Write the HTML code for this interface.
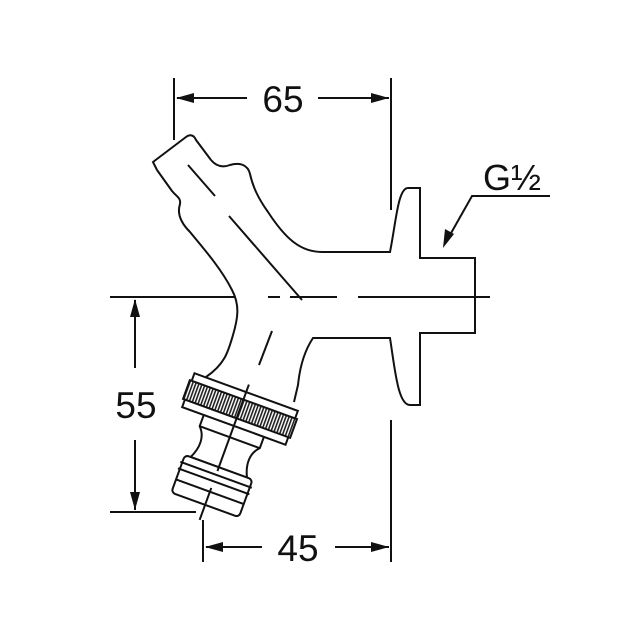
<!DOCTYPE html>
<html><head><style>html,body{margin:0;padding:0;background:#fff}svg{display:block}</style></head>
<body>
<svg width="640" height="640" viewBox="0 0 640 640" xmlns="http://www.w3.org/2000/svg">
<defs>
<pattern id="kn" width="3" height="10" patternUnits="userSpaceOnUse">
<rect width="3" height="10" fill="#fff"/><rect width="1.6" height="10" fill="#222"/>
</pattern>
</defs>
<g fill="none" stroke="#111" stroke-width="2">
<line x1="174" y1="78" x2="174" y2="140"/>
<line x1="391" y1="78" x2="391" y2="210"/>
<line x1="177" y1="98" x2="247" y2="98"/>
<line x1="318" y1="98" x2="389" y2="98"/>
<line x1="110" y1="297" x2="235" y2="297"/>
<line x1="135" y1="300" x2="135" y2="368"/>
<line x1="135" y1="440" x2="135" y2="510"/>
<line x1="110" y1="512" x2="196" y2="512"/>
<line x1="203" y1="520" x2="203" y2="562"/>
<line x1="391" y1="420" x2="391" y2="562"/>
<line x1="206" y1="547" x2="262" y2="547"/>
<line x1="335" y1="547" x2="389" y2="547"/>
<polyline points="550,196 472,196 446,242"/>
<line x1="280" y1="297" x2="268" y2="297"/>
<line x1="290" y1="297" x2="337" y2="297"/>
<line x1="358" y1="297" x2="490" y2="297"/>
<path d="M157,170 L172,191 C177,197 181,198 180,204 C177,213 180,222 190,232 C205,250 222,270 232,290 C240,305 238,318 233,335 C228,352 225,364 206,377"/>
<path d="M211,160 C216,166 222,168 230,165 C240,162 248,165 250,174 C253,187 258,198 268,212 C285,238 300,252 322,252 L390,252 C396,222 398,188 408,188 L420,188 L420,258 L475,258 L475,333 L420,333 L420,405 L410,405 C398,405 395,370 390,338 L313,338 C305,350 300,365 298,385 L294,402"/>
<path d="M157,170 L153,162 L186,137 C190,134 194,135 196,140 L211,160"/>
<line x1="188" y1="165" x2="215" y2="196"/>
<line x1="229" y1="216" x2="302" y2="300"/>
<line x1="272" y1="331" x2="259" y2="365"/>
</g>
<g transform="translate(240,409) rotate(20)" stroke="#111" stroke-width="2" fill="#fff">
<path d="M-32,17 L-32,30 C-24,38 -24,50 -30,62 L30,62 C24,50 24,38 32,30 L32,17 Z"/>
<line x1="-32" y1="30" x2="32" y2="30"/>
<rect x="-36" y="62" width="72" height="40" rx="4"/>
<line x1="-38" y1="70" x2="38" y2="70"/>
<line x1="-38" y1="77" x2="38" y2="77"/>
<line x1="-36" y1="88" x2="36" y2="88"/>
<rect x="-55" y="-18" width="110" height="36"/>
<rect x="-57" y="-10" width="114" height="20" fill="url(#kn)"/>
<line x1="0" y1="-26" x2="0" y2="66" fill="none"/>
<line x1="0" y1="84" x2="0" y2="118" fill="none"/>
</g>
<g fill="#111">
<polygon points="176,98 194,93 194,103"/>
<polygon points="389,98 371,93 371,103"/>
<polygon points="135,299 130,317 140,317"/>
<polygon points="135,510 130,492 140,492"/>
<polygon points="205,547 223,542 223,552"/>
<polygon points="389,547 371,542 371,552"/>
<polygon points="443,248 445,229 454,234"/>
</g>
<g font-family="Liberation Sans, sans-serif" font-size="37" fill="#111" text-anchor="middle">
<text x="283" y="112">65</text>
<text x="136" y="418">55</text>
<text x="298" y="561">45</text>
<text x="512" y="190" font-size="36">G½</text>
</g>
</svg>
</body></html>
